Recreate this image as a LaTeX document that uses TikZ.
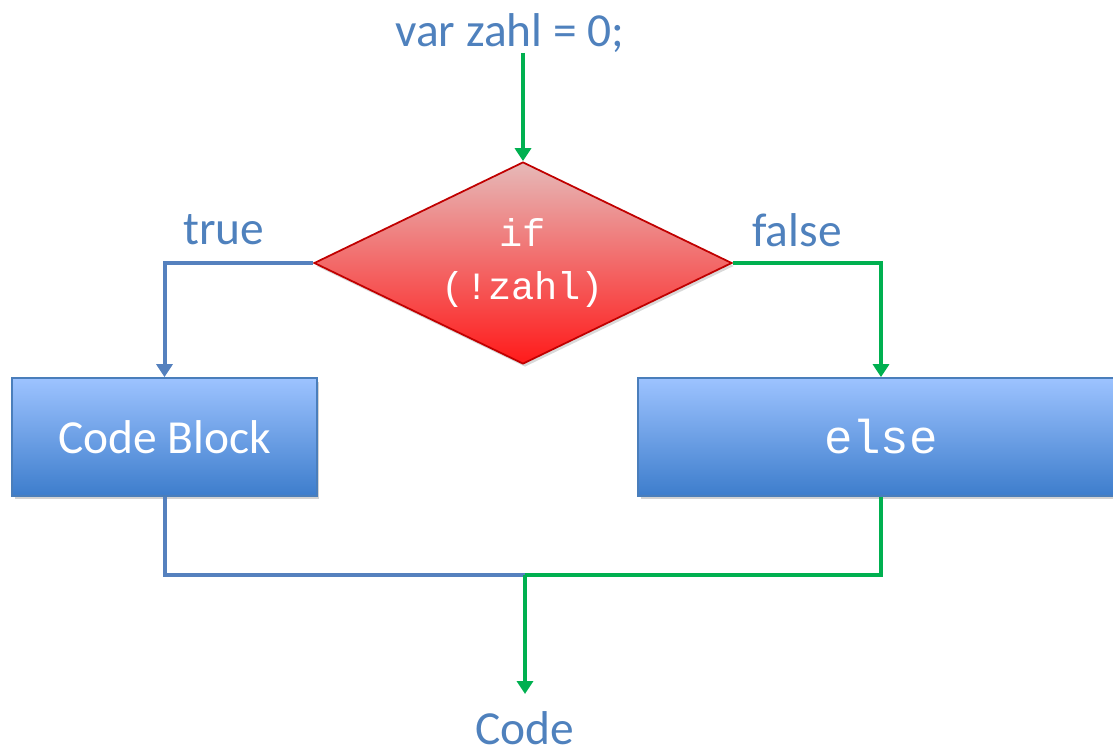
\documentclass[tikz,border=0pt]{standalone}
\usepackage{fontspec}
\setmainfont{Carlito}
\setmonofont{Liberation Mono}
\usetikzlibrary{arrows.meta,shapes.geometric,shadows}
\definecolor{textBlue}{HTML}{4F81BD}
\definecolor{lineBlue}{HTML}{5581BE}
\definecolor{lineGreen}{HTML}{00B050}
\definecolor{boxTop}{HTML}{9DC3FF}
\definecolor{boxBottom}{HTML}{3D7DCC}
\definecolor{boxBorder}{HTML}{4A7EBB}
\definecolor{condTop}{HTML}{E6B9B8}
\definecolor{condBottom}{HTML}{FF1A1A}
\definecolor{condBorder}{HTML}{C00000}
\newcommand{\flowLabel}[3]{%%
  \node[labelStyle] (#1) at (#2) {#3};
}

\begin{document}
\begin{tikzpicture}[%%
  x=0.02cm,y=-0.02cm,%%
  labelStyle/.style={text=textBlue,font=\fontsize{27}{30}\selectfont,inner sep=0pt},%%
  blockStyle/.style={draw=boxBorder,line width=1pt,top color=boxTop,bottom color=boxBottom,%%
    text=white,minimum height=2.36cm,inner sep=0pt,%%
    drop shadow={shadow xshift=0.05cm,shadow yshift=-0.07cm,opacity=0.35}},%%
  decisionStyle/.style={diamond,shape aspect=2.07,draw=condBorder,line width=1pt,%%
    top color=condTop,bottom color=condBottom,%%
    text=white,align=center,minimum width=8.36cm,minimum height=4.04cm,inner sep=0pt,%%
    font=\ttfamily\fontsize{22}{30.5}\selectfont,%%
    drop shadow={shadow xshift=0.04cm,shadow yshift=-0.06cm,opacity=0.3}},%%
  trueLine/.style={draw=lineBlue,line width=0.08cm},%%
  falseLine/.style={draw=lineGreen,line width=0.08cm},%%
  tipStyle/.style={-{Triangle[width=0.32cm,length=0.26cm]}}%%
]
%%
\useasboundingbox (0,0) rectangle (1113,754);
%%
%% Start and end.
\flowLabel{start}{510,33}{var zahl = 0;}
\flowLabel{code}{525,728}{Code}
%%
%% The condition and its two branches.
\node[decisionStyle] (cond) at (523,263) {if\\(!zahl)};
\node[blockStyle,minimum width=6.1cm,font=\fontsize{27}{30}\selectfont] (block) at (164.5,437) {Code Block};
\node[blockStyle,minimum width=9.72cm,font=\ttfamily\fontsize{27}{30}\selectfont] (elseBlock) at (881,437) {else};
\flowLabel{trueLabel}{224,230}{true}
\flowLabel{falseLabel}{797,230}{false}
%%
\coordinate (join) at (525,575);
%%
%% Connectors.
\draw[falseLine,tipStyle] (start.south -| cond.north) ++(0,0.06) -- (cond.north);
\draw[trueLine,tipStyle] (cond.west) -| (block.north);
\draw[falseLine,tipStyle] (cond.east) -| (elseBlock.north);
\draw[trueLine] (block.south) |- (join);
\draw[falseLine] (elseBlock.south) |- (join);
\draw[falseLine,tipStyle,shorten >=0.34cm] (join) -- (code.north);
\end{tikzpicture}
\end{document}
